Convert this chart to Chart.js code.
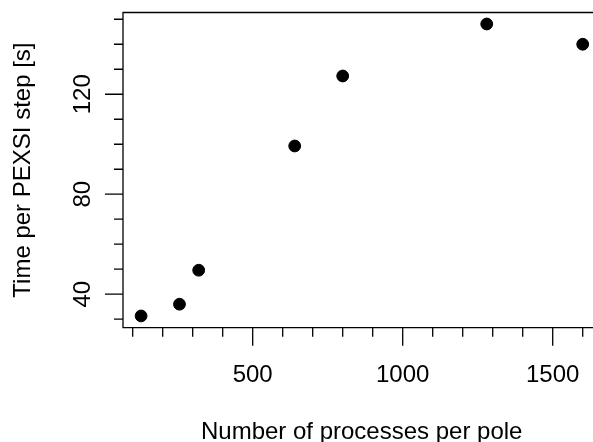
<!DOCTYPE html>
<html>
<head>
<meta charset="utf-8">
<script src="https://cdn.jsdelivr.net/npm/chart.js@4"></script>
<style>
  html, body { margin: 0; padding: 0; background: #fff; overflow: hidden; }
</style>
</head>
<body>
<canvas id="scatterChart" width="593" height="442"></canvas>
<script>
const processes = [128, 256, 320, 640, 800, 1280, 1600];
const timePerStep = [31.3, 36.0, 49.6, 99.3, 127.3, 148.1, 140.0];

const xMajorTicks = [500, 1000, 1500];
const xMinorTicks = [100, 200, 300, 400, 600, 700, 800, 900, 1100, 1200, 1300, 1400, 1600];
const yMajorTicks = [40, 80, 120];
const yMinorTicks = [30, 50, 60, 70, 90, 100, 110, 130, 140, 150];

const xTitle = "Number of processes per pole";
const yTitle = "Time per PEXSI step [s]";

const font = "24px 'Liberation Sans', Arial, Helvetica, sans-serif";

// R-style box, ticks and labels, placed through the chart's own scales
const baseAxes = {
    id: "baseAxes",
    afterDraw(chart) {
        const ctx = chart.ctx;
        const area = chart.chartArea;
        const x = chart.scales.x;
        const y = chart.scales.y;
        ctx.save();
        ctx.strokeStyle = "#000";
        ctx.lineWidth = 1.3;
        ctx.beginPath();
        ctx.moveTo(area.right + 2, area.top);
        ctx.lineTo(area.left, area.top);
        ctx.lineTo(area.left, area.bottom);
        ctx.lineTo(area.right + 2, area.bottom);
        ctx.stroke();

        ctx.beginPath();
        xMajorTicks.forEach(v => {
            const px = x.getPixelForValue(v);
            ctx.moveTo(px, area.bottom);
            ctx.lineTo(px, area.bottom + 18);
        });
        xMinorTicks.forEach(v => {
            const px = x.getPixelForValue(v);
            ctx.moveTo(px, area.bottom);
            ctx.lineTo(px, area.bottom + 9);
        });
        yMajorTicks.forEach(v => {
            const py = y.getPixelForValue(v);
            ctx.moveTo(area.left, py);
            ctx.lineTo(area.left - 18, py);
        });
        yMinorTicks.forEach(v => {
            const py = y.getPixelForValue(v);
            ctx.moveTo(area.left, py);
            ctx.lineTo(area.left - 9, py);
        });
        ctx.stroke();

        ctx.fillStyle = "#000";
        ctx.font = font;
        ctx.textAlign = "center";
        ctx.textBaseline = "alphabetic";
        xMajorTicks.forEach(v => {
            ctx.fillText(String(v), x.getPixelForValue(v), 382);
        });
        ctx.fillText(xTitle, (area.left + x.getPixelForValue(1659)) / 2, 439);

        yMajorTicks.forEach(v => {
            ctx.save();
            ctx.translate(89.5, y.getPixelForValue(v));
            ctx.rotate(-Math.PI / 2);
            ctx.fillText(String(v), 0, 0);
            ctx.restore();
        });
        ctx.save();
        ctx.translate(29.8, (area.top + area.bottom) / 2);
        ctx.rotate(-Math.PI / 2);
        ctx.fillText(yTitle, 0, 0);
        ctx.restore();
        ctx.restore();
    }
};

const data = {
    datasets: [
        {
            data: processes.map((p, i) => ({ x: p, y: timePerStep[i] })),
            backgroundColor: "#000",
            borderColor: "#000",
            pointRadius: 5.9,
            pointHoverRadius: 5.9,
            showLine: false,
        },
    ],
};

const config = {
    type: "scatter",
    data: data,
    options: {
        responsive: false,
        animation: false,
        events: [],
        layout: {
            autoPadding: false,
            padding: { left: 123, top: 12.5, right: 0, bottom: 114.3 },
        },
        scales: {
            x: { type: "linear", min: 67.7, max: 1634.3, display: false },
            y: { type: "linear", min: 26.6, max: 152.7, display: false },
        },
        plugins: {
            legend: { display: false },
            tooltip: { enabled: false },
        },
    },
    plugins: [baseAxes],
};

const ctx = document.getElementById("scatterChart").getContext("2d");
new Chart(ctx, config);
</script>
</body>
</html>
